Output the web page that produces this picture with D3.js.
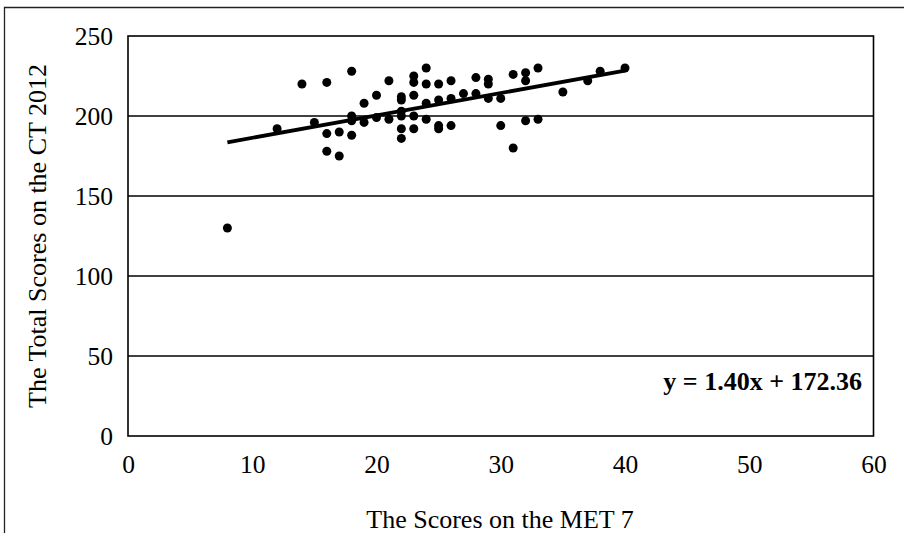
<!DOCTYPE html>
<html>
<head>
<meta charset="utf-8">
<script src="https://cdn.jsdelivr.net/npm/d3@7"></script>
<style>
  html, body { margin: 0; padding: 0; background: #fff; }
  svg { display: block; }
  text { font-family: "Liberation Serif", "Times New Roman", serif; fill: #000; }
</style>
</head>
<body>
<svg id="chart" width="904" height="533"></svg>
<script>
// MET 7 scores (x) and CT 2012 total scores (y)
const metScores = [8,12,14,15,16,16,16,17,17,18,18,18,18,19,19,20,20,21,21,22,22,22,22,22,22,23,23,23,23,23,24,24,24,24,25,25,25,25,26,26,26,27,28,28,29,29,29,30,30,31,31,32,32,32,33,33,35,37,38,40];
const ctScores  = [130,192,220,196,221,189,178,190,175,228,200,197,188,208,196,213,199,222,198,212,210,203,200,192,186,225,221,213,200,192,230,220,208,198,220,210,194,192,222,211,194,214,224,214,223,220,211,211,194,226,180,227,222,197,230,198,215,222,228,230];
const xTicks = [0,10,20,30,40,50,60];
const yTicks = [0,50,100,150,200,250];
const slope = 1.40, intercept = 172.36;
const trendX = [8, 40];
const xTitle = "The Scores on the MET 7";
const yTitle = "The Total Scores on the CT 2012";
const eqLabel = "y = 1.40x + 172.36";

const svg = d3.select("#chart");
const L = 128, R = 873.5, T = 36, B = 436;
const x = d3.scaleLinear().domain([0, 60]).range([L, R]);
const y = d3.scaleLinear().domain([0, 250]).range([B, T]);

// outer frame
svg.append("path")
  .attr("d", `M4.5,${533} L4.5,7.5 L904,7.5`)
  .attr("fill", "none").attr("stroke", "#222").attr("stroke-width", 1.3);

// gridlines
svg.append("g").selectAll("line").data(yTicks.filter(v => v > 0 && v < 250)).join("line")
  .attr("x1", L).attr("x2", R)
  .attr("y1", d => y(d)).attr("y2", d => y(d))
  .attr("stroke", "#000").attr("stroke-width", 1.4);

// plot border
svg.append("rect").attr("x", L).attr("y", T).attr("width", R - L).attr("height", B - T)
  .attr("fill", "none").attr("stroke", "#000").attr("stroke-width", 1.6);

// axes (labels only)
const xAxis = svg.append("g").attr("transform", `translate(0,${B})`)
  .call(d3.axisBottom(x).tickValues(xTicks).tickSize(0).tickPadding(19));
const yAxis = svg.append("g").attr("transform", `translate(${L},0)`)
  .call(d3.axisLeft(y).tickValues(yTicks).tickSize(0).tickPadding(15));
[xAxis, yAxis].forEach(g => {
  g.select(".domain").remove();
  g.selectAll("text").attr("font-size", 25.5).attr("font-family", "Liberation Serif");
});

// points
svg.append("g").selectAll("circle").data(metScores.map((m, i) => [m, ctScores[i]])).join("circle")
  .attr("cx", d => x(d[0])).attr("cy", d => y(d[1])).attr("r", 4.5).attr("fill", "#000");

// trendline
svg.append("line")
  .attr("x1", x(trendX[0])).attr("y1", y(slope * trendX[0] + intercept))
  .attr("x2", x(trendX[1])).attr("y2", y(slope * trendX[1] + intercept))
  .attr("stroke", "#000").attr("stroke-width", 3.8).attr("stroke-linecap", "butt");

// equation
svg.append("text").attr("x", 862).attr("y", 390).attr("text-anchor", "end")
  .attr("font-size", 26).attr("font-weight", "bold").text(eqLabel);

// axis titles
svg.append("text").attr("x", 500).attr("y", 528).attr("text-anchor", "middle")
  .attr("font-size", 26).text(xTitle);
svg.append("text").attr("transform", `translate(46,${(T + B) / 2}) rotate(-90)`)
  .attr("text-anchor", "middle").attr("font-size", 26).text(yTitle);
</script>
</body>
</html>
